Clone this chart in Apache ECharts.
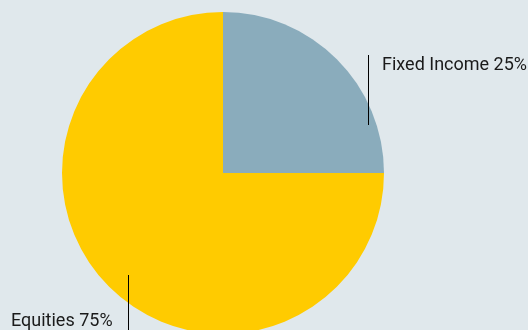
<!DOCTYPE html>
<html><head><meta charset="utf-8">
<script src="https://cdn.jsdelivr.net/npm/echarts@6/dist/echarts.min.js"></script>
<style>html,body{margin:0;padding:0;background:#e0e8ec}#c{width:528px;height:330px}</style>
</head><body><div id="c"></div>
<script>
const categories = ['Fixed Income', 'Equities'];
const values = [25, 75];
const colors = ['#8aacbc', '#ffcb00'];

const chart = echarts.init(document.getElementById('c'));
const labelSpots = [
  {x: 382, y: 65, line: [368.5, 55, 368.5, 125]},
  {x: 11, y: 321, line: [128.5, 275, 128.5, 331]}
];
chart.setOption({
  backgroundColor: '#e0e8ec',
  animation: false,
  graphic: labelSpots.map(s => ({
    type: 'line', z: 100, silent: true,
    shape: {x1: s.line[0], y1: s.line[1], x2: s.line[2], y2: s.line[3]},
    style: {stroke: '#000', lineWidth: 1}
  })),
  series: [{
    type: 'pie',
    center: [223, 173],
    radius: [0, 161],
    startAngle: 90,
    clockwise: true,
    data: categories.map((c, i) => ({name: c, value: values[i], itemStyle: {color: colors[i]}})),
    label: {
      show: true,
      formatter: '{b} {d}%',
      fontFamily: 'Roboto, sans-serif',
      fontSize: 18,
      color: '#1a1a1a',
      overflow: 'none'
    },
    labelLine: {show: false},
    labelLayout: function (p) {
      const s = labelSpots[p.dataIndex];
      return {x: s.x, y: s.y, align: 'left', verticalAlign: 'middle'};
    }
  }]
});
</script></body></html>
